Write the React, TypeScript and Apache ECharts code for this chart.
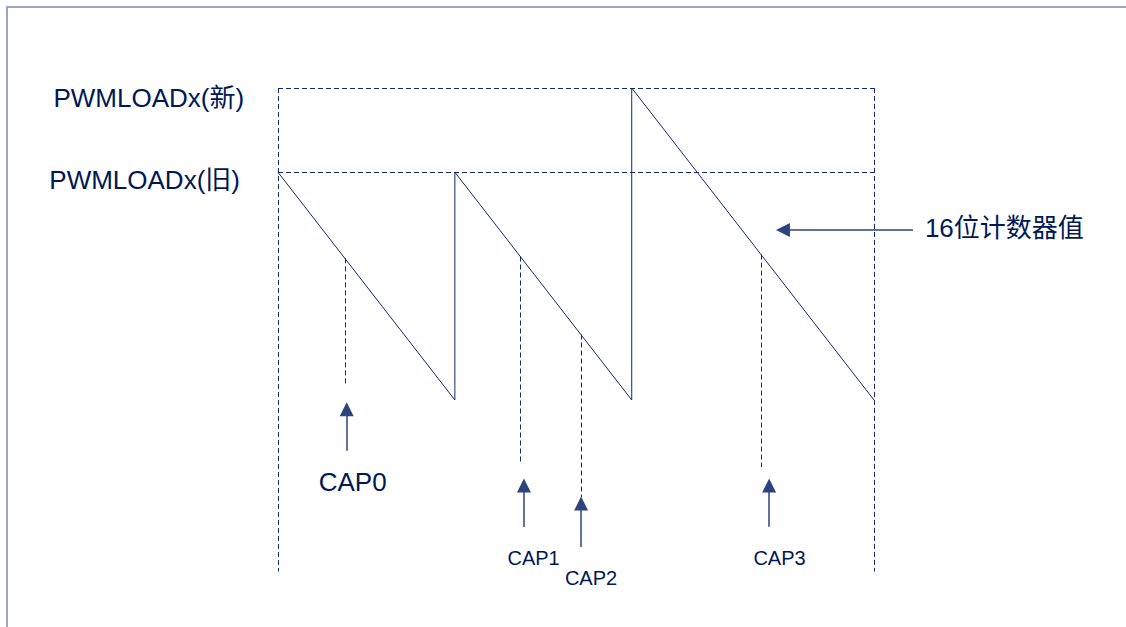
import React, { useEffect, useRef } from "react";
import * as echarts from "echarts";

// ---- data (counter units) ----
const loadLevels = [73, 100]; // PWMLOADx(旧), PWMLOADx(新)
const loadLabels = ["PWMLOADx(旧)", "PWMLOADx(新)"];
const sawTime = [0, 73, 73, 146, 146, 246];
const sawValue = [73, 0, 73, 0, 100, 0];
const periodEdges = [0, 246];
const capNames = ["CAP0", "CAP1", "CAP2", "CAP3"];
const capTimes = [27.6, 100, 125, 199.4];
const capValues = [45.4, 46, 21, 46.6];
const counterLabel = "16位计数器值";

// ---- annotation layout (offsets in axis units) ----
const guideBottom = -55;
const capLayout = [
  { dashEnd: 4.8, arrowDx: 0.75, tip: -3.0, tail: -16.3, labelDx: 3.2, labelY: -26.3, size: 26 },
  { dashEnd: -19.9, arrowDx: 1.5, tip: -27.4, tail: -40.7, labelDx: 5.5, labelY: -50.8, size: 20 },
  { dashEnd: -31.1, arrowDx: 0.1, tip: -33.2, tail: -47.1, labelDx: 4.2, labelY: -57.2, size: 20 },
  { dashEnd: -21.5, arrowDx: 3.3, tip: -27.4, tail: -40.6, labelDx: 7.6, labelY: -50.7, size: 20 },
];
const loadLabelLayout = [
  { x: -15.7, y: 70.4 },
  { x: -14, y: 96.9 },
];
const counterArrow = { tipX: 208.4, tailX: 262.1, y: 54.5, labelX: 267, labelY: 55.1 };

const LINE = "#12296a";
const TEXT = "#001854";
const FONT = "'Liberation Sans', Arial, 'Noto Sans CJK SC', sans-serif";
const DASH = [5, 3];

export default function App() {
  const ref = useRef<HTMLDivElement>(null);
  useEffect(() => {
    if (!ref.current) return;
    const chart = echarts.init(ref.current, null, { renderer: "svg" });

    const xMin = -100, xMax = 340, yMin = -60, yMax = 120;
    const pxX = 2.4228, pxY = 3.12;
    const gridLeft = 278 + xMin * pxX;
    const gridTop = 400 - yMax * pxY;

    const dashed: any[] = [];
    loadLevels.forEach((lv) => {
      dashed.push({ coords: [[periodEdges[0], lv], [periodEdges[1] + 1.2, lv]] });
    });
    periodEdges.forEach((t) => {
      dashed.push({ coords: [[t, loadLevels[1]], [t, guideBottom]] });
    });
    capTimes.forEach((t, i) => {
      dashed.push({ coords: [[t, capValues[i]], [t, capLayout[i].dashEnd]] });
    });

    const arrows: any[] = capTimes.map((t, i) => ({
      coords: [
        [t + capLayout[i].arrowDx, capLayout[i].tail],
        [t + capLayout[i].arrowDx, capLayout[i].tip],
      ],
    }));
    arrows.push({
      coords: [
        [counterArrow.tailX, counterArrow.y],
        [counterArrow.tipX, counterArrow.y],
      ],
    });

    const labels: any[] = [];
    loadLabels.forEach((name, i) => {
      labels.push({
        name,
        value: [loadLabelLayout[i].x, loadLabelLayout[i].y],
        label: { align: "right", fontSize: 26 },
      });
    });
    capNames.forEach((name, i) => {
      labels.push({
        name,
        value: [capTimes[i] + capLayout[i].labelDx, capLayout[i].labelY],
        label: { align: "center", fontSize: capLayout[i].size },
      });
    });
    labels.push({
      name: counterLabel,
      value: [counterArrow.labelX, counterArrow.labelY],
      label: { align: "left", fontSize: 26 },
    });

    chart.setOption({
      animation: false,
      backgroundColor: "#ffffff",
      grid: {
        left: gridLeft,
        top: gridTop,
        width: (xMax - xMin) * pxX,
        height: (yMax - yMin) * pxY,
        containLabel: false,
      },
      xAxis: { type: "value", min: xMin, max: xMax, show: false },
      yAxis: { type: "value", min: yMin, max: yMax, show: false },
      graphic: [
        {
          type: "rect",
          shape: { x: 7, y: 7, width: 1300, height: 800 },
          style: { fill: "none", stroke: "#7e89a9", lineWidth: 1.5 },
          silent: true,
        },
      ],
      series: [
        {
          type: "lines",
          coordinateSystem: "cartesian2d",
          silent: true,
          symbol: ["none", "none"],
          lineStyle: { color: LINE, width: 1, type: DASH, opacity: 1 },
          data: dashed,
        },
        {
          type: "line",
          silent: true,
          symbol: "none",
          lineStyle: { color: LINE, width: 1 },
          data: sawTime.map((t, i) => [t, sawValue[i]]),
        },
        {
          type: "lines",
          coordinateSystem: "cartesian2d",
          silent: true,
          symbol: ["none", "triangle"],
          symbolSize: [13, 14],
          lineStyle: { color: "#2c4380", width: 1.5, opacity: 1 },
          data: arrows,
        },
        {
          type: "scatter",
          silent: true,
          symbolSize: 1,
          itemStyle: { color: "rgba(0,0,0,0)" },
          label: {
            show: true,
            position: "inside",
            verticalAlign: "middle",
            formatter: "{b}",
            color: TEXT,
            opacity: 1,
            textBorderWidth: 0,
            fontFamily: FONT,
          },
          labelLayout: { hideOverlap: false },
          data: labels,
        },
      ],
    });
    return () => chart.dispose();
  }, []);
  return (
    <div
      ref={ref}
      style={{ position: "fixed", left: 0, top: 0, width: 1126, height: 627, background: "#fff" }}
    />
  );
}
